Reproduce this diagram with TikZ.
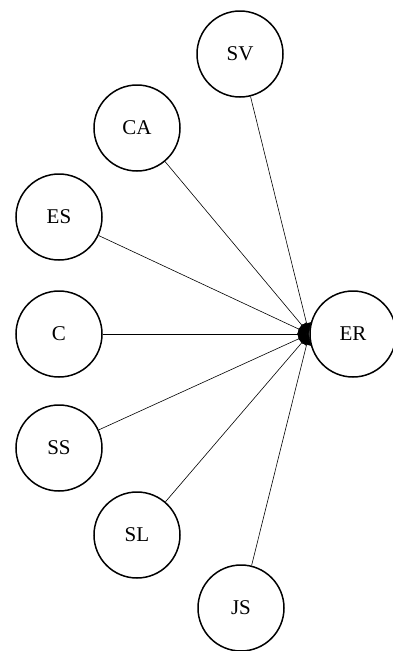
\documentclass[tikz,border=0pt]{standalone}
\usepackage{fontspec}
\setmainfont{Liberation Serif}
\usetikzlibrary{arrows.meta}
\begin{document}
\begin{tikzpicture}[x=1pt,y=-1pt,
  ent/.style={circle,draw,line width=1.5pt,minimum size=86pt,inner sep=0pt,font=\fontsize{21}{25}\selectfont},
  link/.style={line width=0.6pt,-{Latex[length=11pt,width=10pt]}}]
\useasboundingbox (0,0) rectangle (392,651);
\node[ent] (SV) at (240,54) {SV};
\node[ent] (CA) at (137,128) {CA};
\node[ent] (ES) at (59,217) {ES};
\node[ent] (C)  at (59,334) {C};
\node[ent] (SS) at (59,448) {SS};
\node[ent] (SL) at (137,535) {SL};
\node[ent] (JS) at (241,608) {JS};
\node[ent] (ER) at (353,334) {ER};
\foreach \n in {SV,CA,ES,C,SS,SL,JS}
  \draw[link] (\n) -- (ER.west);
\end{tikzpicture}
\end{document}
